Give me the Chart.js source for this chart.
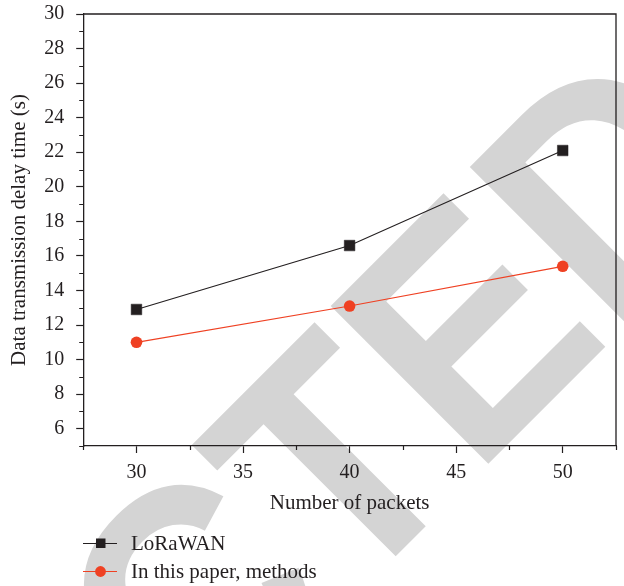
<!DOCTYPE html>
<html><head><meta charset="utf-8">
<script src="https://cdn.jsdelivr.net/npm/chart.js@4"></script>
<style>html,body{margin:0;padding:0;background:#fff;}#wrap{width:624px;height:586px;position:relative;}</style>
</head><body><div id="wrap"><canvas id="c" width="624" height="586"></canvas></div>
<script>
const packets = [30, 40, 50];
const loraWAN = [12.9, 16.6, 22.1];
const thisPaper = [11.0, 13.1, 15.4];
const seriesNames = ['LoRaWAN', 'In this paper, methods'];
const xTicks = [30, 35, 40, 45, 50];
const xMinorTicks = [27.5, 32.5, 37.5, 42.5, 47.5, 52.5];
const yTicks = [6, 8, 10, 12, 14, 16, 18, 20, 22, 24, 26, 28, 30];
const yMinorTicks = [5, 7, 9, 11, 13, 15, 17, 19, 21, 23, 25, 27, 29];
const xTitle = 'Number of packets';
const yTitle = 'Data transmission delay time (s)';
const watermark = 'RETRACTED';

const INK = '#231f20';
const RED = '#ef4123';
const FONT = '"Liberation Serif", "Times New Roman", serif';

const watermarkPlugin = {
  id: 'watermark',
  beforeDraw(chart) {
    const ctx = chart.ctx;
    ctx.save();
    ctx.fillStyle = '#fff';
    ctx.fillRect(0, 0, chart.width, chart.height);
    ctx.translate(476, 476);
    ctx.rotate(-Math.PI / 4);
    ctx.scale(0.91, 1);
    ctx.font = 'bold 324px "Liberation Sans", Arial, sans-serif';
    ctx.fillStyle = '#d4d4d4';
    ctx.textBaseline = 'alphabetic';
    const pre = ctx.measureText(watermark.slice(0, 6)).width;
    ctx.fillText(watermark, -176 / 0.91 - 7 - pre, 0);
    ctx.restore();
  }
};

const framePlugin = {
  id: 'frame',
  afterDraw(chart) {
    const ctx = chart.ctx;
    const a = chart.chartArea;
    const xs = chart.scales.x, ys = chart.scales.y;
    ctx.save();
    ctx.strokeStyle = INK;
    ctx.lineWidth = 1.3;
    ctx.beginPath();
    ctx.moveTo(a.left, a.top); ctx.lineTo(a.right, a.top); ctx.lineTo(a.right, a.bottom);
    ctx.stroke();
    ctx.lineWidth = 1.2;
    ctx.beginPath();
    xMinorTicks.forEach(v => {
      const px = Math.round(xs.getPixelForValue(v)) + 0.5;
      ctx.moveTo(px, a.bottom); ctx.lineTo(px, a.bottom + 4);
    });
    yMinorTicks.forEach(v => {
      const py = Math.round(ys.getPixelForValue(v)) + 0.5;
      ctx.moveTo(a.left, py); ctx.lineTo(a.left - 4, py);
    });
    ctx.stroke();

    // legend
    const rows = [543, 571];
    chart.data.datasets.forEach((ds, i) => {
      const y = rows[i];
      ctx.strokeStyle = ds.borderColor;
      ctx.lineWidth = 1.2;
      ctx.beginPath();
      ctx.moveTo(83, y + 0.5); ctx.lineTo(117, y + 0.5);
      ctx.stroke();
      ctx.fillStyle = ds.pointBackgroundColor;
      if (ds.pointStyle === 'rect') {
        ctx.fillRect(96, y - 4.5, 9.5, 9.5);
      } else {
        ctx.beginPath(); ctx.arc(100.5, y + 0.5, 5.4, 0, Math.PI * 2); ctx.fill();
      }
      ctx.fillStyle = INK;
      ctx.font = '21px ' + FONT;
      ctx.textBaseline = 'middle';
      ctx.textAlign = 'left';
      ctx.fillText(ds.label, 131, y + 1);
    });
    ctx.restore();
  }
};

new Chart(document.getElementById('c'), {
  type: 'line',
  data: {
    datasets: [
      {
        label: seriesNames[0],
        data: packets.map((x, i) => ({ x, y: loraWAN[i] })),
        borderColor: INK, backgroundColor: INK,
        pointBackgroundColor: INK, pointBorderColor: INK,
        pointStyle: 'rect', pointRadius: 7.5, pointBorderWidth: 0.5,
        borderWidth: 1.1, tension: 0
      },
      {
        label: seriesNames[1],
        data: packets.map((x, i) => ({ x, y: thisPaper[i] })),
        borderColor: RED, backgroundColor: RED,
        pointBackgroundColor: RED, pointBorderColor: RED,
        pointStyle: 'circle', pointRadius: 5.8, pointBorderWidth: 0,
        borderWidth: 1.2, tension: 0
      }
    ]
  },
  options: {
    responsive: false,
    animation: false,
    devicePixelRatio: 1,
    layout: { padding: { top: 0, right: 7, left: 0, bottom: 68 } },
    plugins: { legend: { display: false }, tooltip: { enabled: false } },
    scales: {
      x: {
        type: 'linear', min: 27.5, max: 52.5,
        afterBuildTicks: s => { s.ticks = xTicks.map(v => ({ value: v })); },
        ticks: { font: { family: FONT, size: 20 }, color: INK, padding: 8, maxRotation: 0, autoSkip: false },
        grid: { drawOnChartArea: false, drawTicks: true, tickLength: 7, tickColor: INK, tickWidth: 1.2 },
        border: { display: true, color: INK, width: 1.3 },
        title: { display: true, text: xTitle, font: { family: FONT, size: 21, lineHeight: 1.0 }, color: INK, padding: { top: 0, bottom: 4 } }
      },
      y: {
        type: 'linear', min: 5, max: 30,
        afterBuildTicks: s => { s.ticks = yTicks.map(v => ({ value: v })); },
        afterFit: s => { s.paddingTop = 14; },
        ticks: { font: { family: FONT, size: 20 }, color: INK, padding: 12, autoSkip: false },
        grid: { drawOnChartArea: false, drawTicks: true, tickLength: 7, tickColor: INK, tickWidth: 1.2 },
        border: { display: true, color: INK, width: 1.3 },
        title: { display: true, text: yTitle, font: { family: FONT, size: 21 }, color: INK, padding: { top: 7, bottom: 0 } }
      }
    }
  },
  plugins: [watermarkPlugin, framePlugin]
});
</script></body></html>
